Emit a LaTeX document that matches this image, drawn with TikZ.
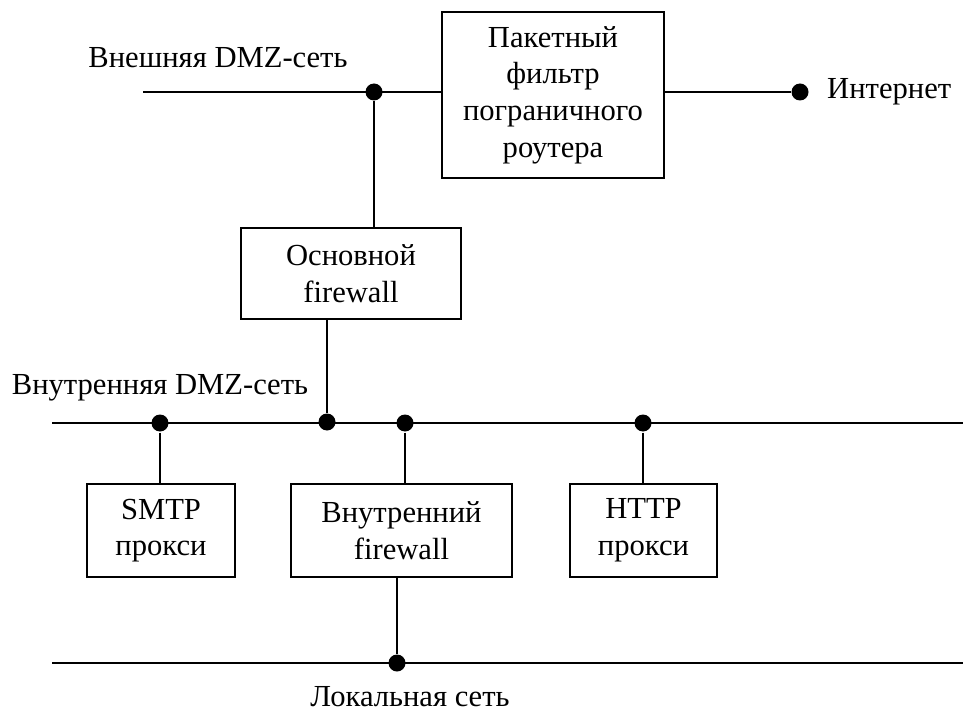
\documentclass[tikz,border=0pt]{standalone}
\usepackage{fontspec}
\setmainfont{Liberation Serif}
\usetikzlibrary{positioning,calc}

\begin{document}
\begin{tikzpicture}[x=0.5pt,y=-0.5pt,line width=1pt,font=\fontsize{15.3}{18.3}\selectfont,
    box/.style={rectangle,draw,align=center,inner sep=0pt},
    dot/.style={circle,fill,inner sep=0pt,minimum size=8.5pt}]
    \useasboundingbox (0,0) rectangle (963,711);
    \node[box,minimum width=111pt,minimum height=83pt](pf) at (553,95){Пакетный\\фильтр\\пограничного\\роутера};
    \node[box,minimum width=110pt,minimum height=45.5pt](fwmain) at (351,273.5){Основной\\firewall};
    \node[box,minimum width=74pt,minimum height=46.5pt](smtp) at (161,530.5){SMTP\\прокси};
    \node[box,minimum width=110.5pt,minimum height=46.5pt](fwint) at (401.5,530.5){Внутренний\\firewall};
    \node[box,minimum width=73.5pt,minimum height=46.5pt](http) at (643.5,530.5){HTTP\\прокси};
    \node[dot](dext) at (374,92){};
    \node[dot](dinet) at (800,92){};
    \node[dot](dmain) at (327,422){};
    \node[dot](dsmtp) at (160,423){};
    \node[dot](dint) at (405,423){};
    \node[dot](dhttp) at (643,423){};
    \node[dot](dlan) at (397,663){};
    \node(extlbl) at (218,58){Внешняя DMZ-сеть};
    \node(intlbl) at (160,388){Внутренняя DMZ-сеть};
    \node(lanlbl) at (410,697){Локальная сеть};
    \node(inet)[right=5pt of dinet]{Интернет};
    \coordinate (extL) at (143,92);
    \coordinate (intL) at (52,423);
    \coordinate (intR) at (963,423);
    \coordinate (lanL) at (52,663);
    \coordinate (lanR) at (963,663);
    \draw (extL) -- (pf.west |- extL);
    \draw (pf.east |- extL) -- (dinet);
    \draw (dext) -- (dext |- fwmain.north);
    \draw (fwmain.south -| dmain) -- (dmain);
    \draw (intL) -- (intR);
    \draw (lanL) -- (lanR);
    \draw (dsmtp) -- (dsmtp |- smtp.north);
    \draw (dint) -- (dint |- fwint.north);
    \draw (dhttp) -- (dhttp |- http.north);
    \draw (fwint.south -| dlan) -- (dlan);
\end{tikzpicture}
\end{document}
